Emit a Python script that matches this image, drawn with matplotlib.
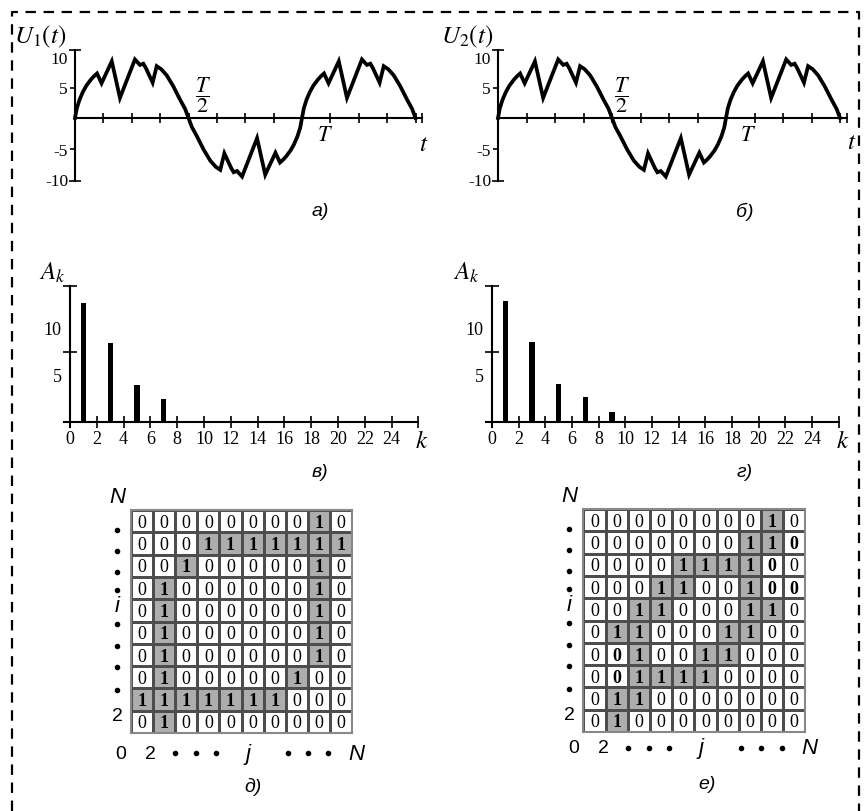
import numpy as np
import matplotlib.pyplot as plt
from matplotlib.colors import ListedColormap

plt.rcParams['font.family'] = 'Liberation Serif'
plt.rcParams['mathtext.fontset'] = 'stix'
plt.rcParams['axes.unicode_minus'] = False
plt.rcParams['lines.scale_dashes'] = False

# signal, first half period (rest follows from the symmetry seen in the picture)
t_half = np.array([0, 0.008, 0.02, 0.035, 0.05, 0.07, 0.085, 0.097, 0.117, 0.162, 0.198,
                   0.264, 0.286, 0.301, 0.312, 0.342, 0.36, 0.38, 0.404, 0.433, 0.463, 0.485, 0.5])
u_half = np.array([0, 1.6, 3.0, 4.3, 5.3, 6.3, 6.9, 7.3, 5.7, 9.3, 3.3,
                   9.6, 8.7, 8.9, 8.2, 5.8, 8.5, 8.0, 7.0, 5.2, 3.0, 1.5, 0])

# spectra
k1 = [1, 3, 5, 7]
A1 = [12.7, 8.4, 3.9, 2.5]
k2 = [1, 3, 5, 7, 9]
A2 = [12.9, 8.5, 4.0, 2.7, 1.1]
k_ticks = list(range(0, 27, 2))
k_labels = [str(k) for k in range(0, 25, 2)] + ['']

# binary images (top row first)
grid_d = [[0, 0, 0, 0, 0, 0, 0, 0, 1, 0],
          [0, 0, 0, 1, 1, 1, 1, 1, 1, 1],
          [0, 0, 1, 0, 0, 0, 0, 0, 1, 0],
          [0, 1, 0, 0, 0, 0, 0, 0, 1, 0],
          [0, 1, 0, 0, 0, 0, 0, 0, 1, 0],
          [0, 1, 0, 0, 0, 0, 0, 0, 1, 0],
          [0, 1, 0, 0, 0, 0, 0, 0, 1, 0],
          [0, 1, 0, 0, 0, 0, 0, 1, 0, 0],
          [1, 1, 1, 1, 1, 1, 1, 0, 0, 0],
          [0, 1, 0, 0, 0, 0, 0, 0, 0, 0]]
grid_e = [[0, 0, 0, 0, 0, 0, 0, 0, 1, 0],
          [0, 0, 0, 0, 0, 0, 0, 1, 1, 0],
          [0, 0, 0, 0, 1, 1, 1, 1, 0, 0],
          [0, 0, 0, 1, 1, 0, 0, 1, 0, 0],
          [0, 0, 1, 1, 0, 0, 0, 1, 1, 0],
          [0, 1, 1, 0, 0, 0, 1, 1, 0, 0],
          [0, 0, 1, 0, 0, 1, 1, 0, 0, 0],
          [0, 0, 1, 1, 1, 1, 0, 0, 0, 0],
          [0, 1, 1, 0, 0, 0, 0, 0, 0, 0],
          [0, 1, 0, 0, 0, 0, 0, 0, 0, 0]]
bold_zeros_e = [(1, 9), (2, 8), (3, 8), (3, 9), (6, 1), (7, 1)]

W, H = 866, 812
fig = plt.figure(figsize=(W / 100, H / 100), dpi=100)
bg = fig.add_axes([0, 0, 1, 1])
bg.set_xlim(0, W)
bg.set_ylim(H, 0)
bg.axis('off')

# dashed frame
bg.plot([12, 12, 859, 859], [H, 13, 13, H], color='black', lw=1.6, dashes=(7.5, 5.5))


def place(ox, oy, sx, sy, xlim, ylim):
    x0 = ox + xlim[0] * sx
    x1 = ox + xlim[1] * sx
    ytop = oy - ylim[1] * sy
    ybot = oy - ylim[0] * sy
    ax = fig.add_axes([x0 / W, 1 - ybot / H, (x1 - x0) / W, (ybot - ytop) / H])
    ax.set_xlim(xlim)
    ax.set_ylim(ylim)
    ax.patch.set_visible(False)
    return ax


def axes_style(ax, xb, yb):
    for s in ['top', 'right']:
        ax.spines[s].set_visible(False)
    for s in ['left', 'bottom']:
        ax.spines[s].set_position(('data', 0))
        ax.spines[s].set_linewidth(1.5)
    ax.spines['bottom'].set_bounds(*xb)
    ax.spines['left'].set_bounds(*yb)


def signal_panel(ox, sx, lab_pos):
    ax = place(ox, 119, sx, 6.1, (-0.3, 1.65), (-12.5, 13))
    t_full = np.concatenate([t_half, 1 - t_half[::-1], 1 + t_half])
    u_full = np.concatenate([u_half, -u_half[::-1], u_half])
    ax.plot(t_full, u_full, color='black', lw=2.7, solid_joinstyle='miter')
    axes_style(ax, (0, 1.53), (-10.4, 11.2))
    ax.set_xticks(list(np.arange(1, 13) / 8) + [1.53])
    ax.tick_params(axis='x', direction='inout', length=7, width=1.2, labelbottom=False)
    ax.set_yticks([-10, -5, 5, 10])
    ax.set_yticklabels(['-10', '-5', '5', '10'])
    ax.set_yticks([-10.4, 11.2], minor=True)
    ax.tick_params(axis='y', which='major', direction='out', length=3.5, width=1.2,
                   pad=1.5, labelsize=12.5)
    ax.tick_params(axis='y', which='minor', direction='inout', length=9, width=1.2)
    ticks = ax.yaxis.get_major_ticks()
    ticks[0].tick1line.set_visible(False)
    ticks[3].tick1line.set_visible(False)
    th, tt, tl = lab_pos
    ax.text(th[0], th[1], r'$\dfrac{T}{2}$', fontsize=16, ha='center', va='center')
    ax.text(tt[0], tt[1], r'$T$', fontsize=16, ha='center', va='center')
    ax.text(tl[0], tl[1], r'$t$', fontsize=18, ha='center', va='center')
    return ax


signal_panel(75, 227, ((0.564, 4.0), (1.10, -2.95), (1.535, -4.3)))
signal_panel(498, 228, ((0.543, 4.0), (1.098, -2.9), (1.55, -3.9)))
bg.text(40, 37, r'$U_1(t)$', fontsize=18, ha='center', va='center')
bg.text(467, 37, r'$U_2(t)$', fontsize=18, ha='center', va='center')


def spectrum_panel(ox, oy, sx, k, A):
    ax = place(ox, oy, sx, 9.4, (-2, 27.5), (-2, 16))
    ax.bar(k, A, width=0.38, color='black')
    axes_style(ax, (-0.45, 26), (-0.5, 14.5))
    ax.set_xticks(k_ticks)
    ax.set_xticklabels(k_labels)
    ax.tick_params(axis='x', direction='inout', length=8, width=1.2, pad=2, labelsize=13)
    ax.set_yticks([5, 10])
    ax.set_yticklabels(['5', '10'])
    ax.set_yticks([7.5, 14.5], minor=True)
    ax.tick_params(axis='y', which='major', length=0, pad=6, labelsize=13)
    ax.tick_params(axis='y', which='minor', direction='inout', length=10, width=1.2)
    return ax


spectrum_panel(70, 423, 13.4, k1, A1)
spectrum_panel(492, 423, 13.33, k2, A2)
bg.text(52, 273, r'$A_k$', fontsize=18, ha='center', va='center')
bg.text(466, 273, r'$A_k$', fontsize=18, ha='center', va='center')
bg.text(422, 442, r'$k$', fontsize=18, ha='center', va='center')
bg.text(843, 442, r'$k$', fontsize=18, ha='center', va='center')


def grid_panel(x0, y0, cw, ch, grid, bold_zeros, by):
    ax = place(x0, y0 + 10 * ch, cw, ch, (0, 10), (0, 10))
    ax.set_ylim(10, 0)
    vals = np.array(grid)
    ax.pcolormesh(np.arange(11), np.arange(11), vals, vmin=0, vmax=1,
                  cmap=ListedColormap(['white', '#adadad']),
                  edgecolors='#4d4d4d', linewidth=0.9)
    for s in ax.spines.values():
        s.set_color('#888888')
        s.set_linewidth(1.5)
    ax.set_xticks([])
    ax.set_yticks([])
    for r in range(10):
        for c in range(10):
            v = vals[r, c]
            bold = v == 1 or (r, c) in bold_zeros
            ax.text(c + 0.5, r + 0.55, str(v), ha='center', va='center', fontsize=13,
                    fontweight='bold' if bold else 'normal')
    sans = 'Liberation Sans'
    ax.text(-0.63, -0.6, 'N', family=sans, style='italic', fontsize=16,
            ha='center', va='center', clip_on=False)
    ax.plot([-0.63] * 8, [0.9, 1.85, 2.8, 3.6, 5.1, 6.1, 7.05, 8.05], 'o', color='black',
            ms=3, clip_on=False)
    ax.text(-0.63, 4.3, 'i', family=sans, style='italic', fontsize=16,
            ha='center', va='center', clip_on=False)
    ax.text(-0.63, 9.2, '2', family=sans, fontsize=14, ha='center', va='center', clip_on=False)
    ax.text(-0.45, by, '0', family=sans, fontsize=14, ha='center', va='center', clip_on=False)
    ax.text(0.9, by, '2', family=sans, fontsize=14, ha='center', va='center', clip_on=False)
    ax.plot([2.0, 2.95, 3.85, 7.1, 8.0, 8.93], [by] * 6, 'o', color='black',
            ms=3, clip_on=False)
    ax.text(5.3, by, 'j', family=sans, style='italic', fontsize=16,
            ha='center', va='center', clip_on=False)
    ax.text(10.2, by, 'N', family=sans, style='italic', fontsize=16,
            ha='center', va='center', clip_on=False)
    return ax


grid_panel(131, 511, 22.1, 22.3, grid_d, [], 10.9)
grid_panel(583.3, 510, 22.2, 22.3, grid_e, bold_zeros_e, 10.7)

cap = dict(family='Liberation Sans', style='italic', fontsize=14, ha='center', va='center')
bg.text(320, 212, 'а)', **cap)
bg.text(745, 212, 'б)', **cap)
bg.text(320, 473, 'в)', **cap)
bg.text(745, 473, 'г)', **cap)
bg.text(253, 787, 'д)', **cap)
bg.text(707, 785, 'е)', **cap)

fig.savefig('out.png', dpi=100)
